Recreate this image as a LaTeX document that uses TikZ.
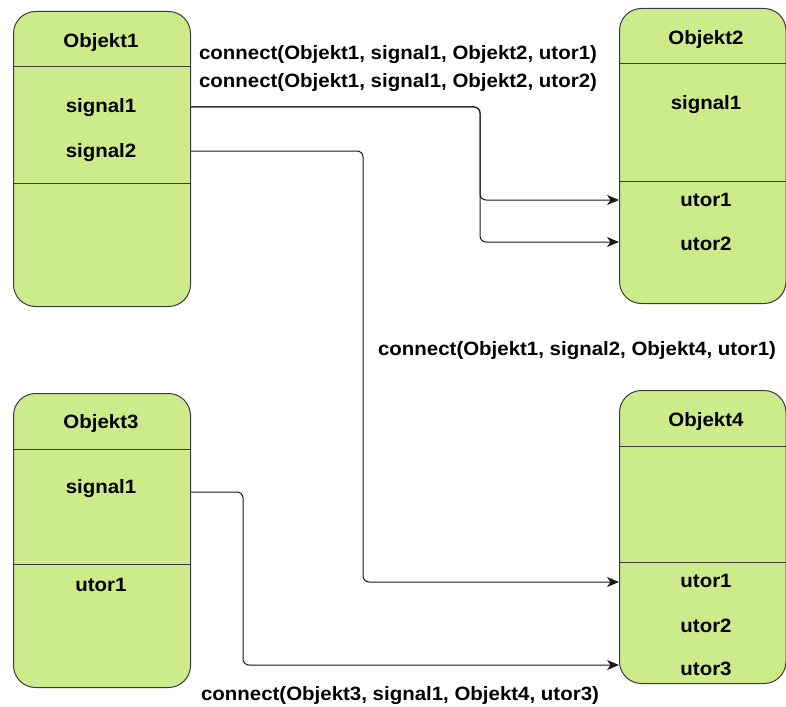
\documentclass[tikz,border=0pt]{standalone}
\usepackage{fontspec}
\setmainfont{Liberation Sans}[FakeStretch=1.06]
\usetikzlibrary{arrows.meta}
\definecolor{boxfill}{HTML}{CDEB8B}
\definecolor{boxline}{HTML}{36393D}
\begin{document}
\begin{tikzpicture}[x=1pt,y=-1pt,
  obj/.style={draw=boxline, fill=boxfill, line width=1pt, rounded corners=22pt, inner sep=0pt, anchor=north west},
  divline/.style={draw=boxline, line width=1pt},
  txt/.style={font=\fontsize{19.3}{19.3}\selectfont\bfseries, anchor=base, inner sep=0pt},
  conn/.style={draw=black!90, line width=1pt, rounded corners=6pt, -{Stealth[length=12pt,width=10pt,inset=3.5pt]}},
]
\useasboundingbox (0,0) rectangle (786,706);

% Objects
\node[obj, minimum width=177pt, minimum height=295pt] (o1) at (13,11) {};
\node[obj, minimum width=166.5pt, minimum height=295pt] (o2) at (619,8) {};
\node[obj, minimum width=177pt, minimum height=294pt] (o3) at (13,393) {};
\node[obj, minimum width=166.5pt, minimum height=293pt] (o4) at (619,390) {};

% Dividers
\draw[divline] (o1.west |- 0,67) -- (o1.east |- 0,67);
\draw[divline] (o1.west |- 0,183) -- (o1.east |- 0,183);
\draw[divline] (o2.west |- 0,64) -- (o2.east |- 0,64);
\draw[divline] (o2.west |- 0,181) -- (o2.east |- 0,181);
\draw[divline] (o3.west |- 0,449) -- (o3.east |- 0,449);
\draw[divline] (o3.west |- 0,564) -- (o3.east |- 0,564);
\draw[divline] (o4.west |- 0,446) -- (o4.east |- 0,446);
\draw[divline] (o4.west |- 0,562) -- (o4.east |- 0,562);

% Texts in objects
\node[txt] (o1t) at (101,48) {Objekt1};
\node[txt] (o1s1) at (101,113) {signal1};
\node[txt] (o1s2) at (101,157) {signal2};

\node[txt] (o2t) at (706,45) {Objekt2};
\node[txt] (o2s1) at (706,110) {signal1};
\node[txt] (o2u1) at (706,206) {utor1};
\node[txt] (o2u2) at (706,250) {utor2};

\node[txt] (o3t) at (101,428) {Objekt3};
\node[txt] (o3s1) at (101,493) {signal1};
\node[txt] (o3u1) at (101,591) {utor1};

\node[txt] (o4t) at (706,426) {Objekt4};
\node[txt] (o4u1) at (706,587) {utor1};
\node[txt] (o4u2) at (706,632) {utor2};
\node[txt] (o4u3) at (706,675) {utor3};

% Connection labels
\node[txt] (l1) at (398,60) {connect(Objekt1, signal1, Objekt2, utor1)};
\node[txt] (l2) at (398,88) {connect(Objekt1, signal1, Objekt2, utor2)};
\node[txt] (l3) at (577,355) {connect(Objekt1, signal2, Objekt4, utor1)};
\node[txt] (l4) at (400,700) {connect(Objekt3, signal1, Objekt4, utor3)};

% Connectors
\draw[conn] (o1.east |- 0,107) -- (480,107) -- (480,200) -- (o2.west |- 0,200);
\draw[conn] (o1.east |- 0,107) -- (480,107) -- (480,242) -- (o2.west |- 0,242);
\draw[conn] (o1.east |- 0,151) -- (363,151) -- (363,582) -- (o4.west |- 0,582);
\draw[conn] (o3.east |- 0,492) -- (243,492) -- (243,665) -- (o4.west |- 0,665);
\end{tikzpicture}
\end{document}
